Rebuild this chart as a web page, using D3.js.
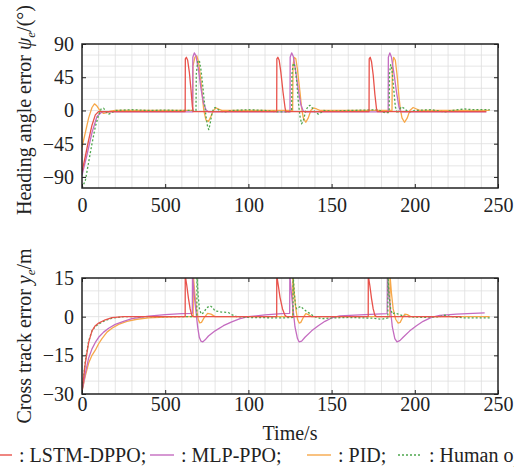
<!DOCTYPE html>
<html>
<head>
<meta charset="utf-8">
<script src="https://cdn.jsdelivr.net/npm/d3@7"></script>
<style>
	html, body { margin: 0; padding: 0; background: #fff; overflow: hidden; }
	svg { display: block; }
	.grid line { stroke: #dedede; stroke-width: 0.8; }
	.axis path { display: none; }
	.axis line { stroke: #222; stroke-width: 1; }
	.line { fill: none; stroke-width: 1.3; stroke-linejoin: round; }
</style>
</head>
<body>
<svg id="chart" width="514" height="475"></svg>
<script>
// tick values / labels (the source figure prints "500" under 50)
const xTicks = [0, 50, 100, 150, 200, 250];
const xTickLabels = ['0', '500', '100', '150', '200', '250'];
const headTicks = [-90, -45, 0, 45, 90];
const cteTicks = [-30, -15, 0, 15];

const seriesNames = ['LSTM-DPPO', 'MLP-PPO', 'PID', 'Human operator'];
const seriesColors = ['#e8524b', '#c46cc0', '#f7a84a', '#4ea64e'];
const serif = 'Liberation Serif';

// heading angle error [t, deg]
const lstmHead = [[0,-83],[2,-62],[4,-40],[6,-20],[8,-6],[10,-1.5],[20,-1.5],[62,-1.5],[62.1,70],[62.7,72],[63.5,68],[64.5,52],[65.5,28],[66.3,6],[66.8,-1.5],[117,-1.5],[117.1,70],[117.7,72],[118.5,68],[119.5,52],[120.8,25],[122,4],[122.5,-1.5],[172.5,-1.5],[172.6,70],[173.2,72],[174,66],[175,48],[176,22],[177,2],[177.4,-1.5],[243,-1.5]];
const mlpHead = [[0,-88],[3,-60],[6,-30],[9,-8],[12,-2],[66.5,-2],[66.6,72],[67.5,78],[68.5,74],[70,55],[71.5,30],[73,10],[74.5,1],[76,-2],[125,-2],[125.1,72],[126,78],[127,73],[128.5,52],[130,28],[131.5,8],[133,-1],[134,-2],[184,-2],[184.1,72],[185,78],[186,72],[187.5,50],[189,25],[190.5,5],[191.5,-2],[243,-2]];
const pidHead = [[0,-50],[2,-30],[4,-10],[6,4],[7.5,9],[9,6],[11,-1],[13,-4],[15,-3],[17,-1],[20,0],[66.5,0],[66.7,60],[67.8,72],[69,74],[70,66],[71.5,40],[72.5,15],[73.2,0],[74.5,-13],[76,-15],[77.5,-8],[79,0],[80.5,3.5],[82,2],[84,0],[126.6,0],[126.8,60],[127.5,72],[128.5,70],[129.5,55],[131,25],[132,3],[133,-10],[134.5,-16],[136,-10],[137.5,0],[139,3.5],[141,2],[143,0],[186.3,0],[186.5,60],[187.3,72],[188.3,68],[189.5,45],[190.5,18],[191.3,2],[192.3,-10],[193.8,-16],[195.5,-10],[197,0],[199,4],[201,2],[203,0],[245,0]];
const humanHead = [[0,-105],[2,-95],[4,-70],[6,-45],[8,-22],[10,-6],[11.5,2],[13,3],[14.5,-2],[16,-5],[18,-3],[20,0],[30,1],[40,0],[50,0.5],[60,0],[68.5,0],[68.7,50],[69.5,66],[70.5,68],[71.5,55],[72.5,35],[73.5,12],[74.5,-8],[75.5,-22],[76.2,-26],[77,-18],[78,-5],[79,2],[80,4],[81.5,2],[83,-1],[86,-2],[90,0],[100,1],[110,0],[118,-2],[124,-2],[126,0],[126.2,50],[127,64],[128,60],[129,40],[130,12],[131,-8],[132,-18],[133,-14],[134.5,0],[136,6],[137,7],[138.5,3],[140,-2],[142,-5],[143.5,-3],[145,0],[150,-1],[160,0],[170,0.5],[178,1],[182,-3],[184,-3],[184.6,0],[184.8,50],[185.5,62],[186.3,55],[187.3,30],[188.3,5],[189.5,-4],[190.5,0],[192,5],[193.5,3],[195,0],[197,-2],[200,0],[210,1],[218,-2],[222,0],[230,2],[235,1],[245,1]];

// cross track error [t, m]
const lstmCte = [[0,-29],[2,-18],[4,-10],[6,-5.5],[8,-3.5],[10,-2.5],[14,-1.2],[18,-0.4],[25,0],[62,0],[62.05,16],[63,12],[64,7],[65,3],[66,0.5],[67,0],[117,0],[117.05,16],[118,12],[119,7.5],[120.5,3],[122,0.5],[123,0],[172,0],[172.05,16],[173,12],[174,7],[175,3],[176,0.5],[177,0],[228,0]];
const mlpCte = [[0,-29],[2,-22],[4,-16],[6,-12.5],[8,-10],[10,-8],[13,-6],[16,-4.5],[20,-3],[25,-1.8],[30,-0.8],[40,0.2],[50,0.8],[60,1.2],[66.3,1.3],[66.4,16],[67.5,8],[68.5,2],[69.5,-4],[70.5,-8],[71.5,-9.5],[72.5,-9.8],[74,-9],[76,-7.5],[80,-5.5],[85,-3.5],[90,-2],[95,-0.8],[100,0],[110,0.7],[120,1.2],[124.8,1.3],[124.9,16],[126,8],[127,2],[128,-4],[129.5,-8.5],[130.5,-9.8],[132,-9.5],[134,-8],[138,-5.5],[142,-3.5],[146,-1.8],[150,-0.5],[155,0.3],[170,0.8],[183.4,1.2],[183.5,16],[184.5,8],[185.5,2],[186.5,-4],[188,-8.5],[189.3,-9.8],[191,-9.3],[193,-8],[197,-5.5],[201,-3.5],[205,-1.8],[210,-0.3],[215,0.5],[225,1],[235,1.3],[242,1.5]];
const pidCte = [[0,-29],[2,-23],[4,-18],[6,-15],[8,-13],[10,-10.5],[12,-8.5],[15,-6],[18,-4.5],[22,-3],[27,-1.8],[33,-1],[40,-0.5],[50,-0.2],[60,0],[66.8,0],[66.9,16],[67.8,9],[68.8,3],[69.8,-1],[70.8,-2.4],[71.8,-2.2],[73.5,-0.3],[75.5,1.3],[77.5,1],[80,0],[126.6,0],[126.7,16],[127.6,9],[128.5,3],[129.5,-1],[130.5,-2.5],[131.5,-2.2],[133,-0.3],[134.5,1.2],[136,0.8],[138,0],[185,0],[185.1,16],[186,9],[187,3],[188.5,-1],[190,-2.5],[191.2,-2.2],[192.5,-0.5],[194,1],[195.5,0.8],[197.5,0],[245,0]];
const humanCte = [[0,-29],[2,-17],[4,-9.5],[6,-5.5],[8,-3.8],[10,-2.8],[14,-1.5],[18,-0.6],[25,0],[40,0],[69,0],[69.1,16],[69.8,8],[70.6,3],[71.6,1],[73,1.5],[75,3.5],[77,4.2],[78.5,3.5],[80,2.2],[84,1.8],[88,1.6],[90,0.8],[93,0],[100,-0.3],[120,-0.5],[126.8,-0.3],[126.9,16],[127.6,9],[128.3,4.5],[129,3],[130,3.5],[131.5,4],[133,3],[135,2],[137,1.2],[139,0.3],[141,-0.3],[144,-0.8],[150,-0.5],[160,-0.3],[175,-0.6],[180,-1],[183.8,-0.5],[183.9,16],[184.6,8],[185.5,3],[186.5,1],[188,1.5],[190,1],[193,0.3],[196,0],[205,-0.3],[215,0],[218,0.6],[222,0],[230,-0.5],[245,-0.5]];

const svg = d3.select('#chart');
const left = 82;
const right = 498;

const x = d3.scaleLinear().domain([0, 250]).range([left, right]);

const panels = [ {
	id: 'head',
	top: 44,
	bottom: 188,
	domain: [-105, 90],
	ticks: headTicks,
	gridStep: 15,
	labelPad: 10,
	series: [pidHead, mlpHead, humanHead, lstmHead],
	order: [2, 1, 3, 0],
}, {
	id: 'cte',
	top: 278,
	bottom: 394,
	domain: [-30, 15],
	ticks: cteTicks,
	gridStep: 5,
	labelPad: 3,
	series: [pidCte, mlpCte, humanCte, lstmCte],
	order: [2, 1, 3, 0],
}, ];

panels.forEach((p) => {
	const y = d3.scaleLinear().domain(p.domain).range([p.bottom, p.top]);
	const g = svg.append('g');

	// grid
	const grid = g.append('g').attr('class', 'grid');
	grid.selectAll('.gx')
		.data(d3.range(10, 250, 10))
		.join('line')
			.attr('x1', (d) => x(d)).attr('x2', (d) => x(d))
			.attr('y1', p.top).attr('y2', p.bottom);
	grid.selectAll('.gy')
		.data(d3.range(p.domain[0] + p.gridStep, p.domain[1], p.gridStep))
		.join('line')
			.attr('x1', left).attr('x2', right)
			.attr('y1', (d) => y(d)).attr('y2', (d) => y(d));

	// lines
	g.append('clipPath').attr('id', `clip-${ p.id }`)
		.append('rect')
			.attr('x', left).attr('y', p.top)
			.attr('width', right - left).attr('height', p.bottom - p.top);

	const line = d3.line()
		.x((d) => x(d[0]))
		.y((d) => y(d[1]));

	const lines = g.append('g').attr('clip-path', `url(#clip-${ p.id })`);
	p.series.forEach((data, i) => {
		const k = p.order[i];
		lines.append('path')
			.datum(data)
			.attr('class', 'line')
			.attr('stroke', seriesColors[k])
			.attr('stroke-dasharray', k === 3 ? '2,2' : null)
			.attr('d', line);
	});

	// axes, ticks inward
	const axes = [
		[d3.axisLeft(y).tickValues(p.ticks).tickPadding(8), `translate(${ left }, 0)`],
		[d3.axisRight(y).tickValues(p.ticks).tickFormat(''), `translate(${ right }, 0)`],
		[d3.axisBottom(x).tickValues(xTicks).tickPadding(p.labelPad).tickFormat((d, i) => xTickLabels[i]), `translate(0, ${ p.bottom })`],
		[d3.axisTop(x).tickValues(xTicks).tickFormat(''), `translate(0, ${ p.top })`],
	];
	axes.forEach(([axis, tr]) => {
		g.append('g')
			.attr('class', 'axis')
			.attr('transform', tr)
			.call(axis.tickSize(-4))
			.attr('font-family', serif)
			.attr('font-size', 20)
			.selectAll('text')
				.attr('fill', '#222');
	});

	g.append('rect')
		.attr('x', left).attr('y', p.top)
		.attr('width', right - left).attr('height', p.bottom - p.top)
		.attr('fill', 'none')
		.attr('stroke', '#222')
		.attr('stroke-width', 1.5);
});

// y titles
const yTitle = (cx, cy, parts) => {
	const t = svg.append('text')
		.attr('transform', `translate(${ cx }, ${ cy }) rotate(-90)`)
		.attr('text-anchor', 'middle')
		.attr('font-family', serif)
		.attr('font-size', 20)
		.attr('fill', '#222');
	parts.forEach(([s, style]) => {
		const ts = t.append('tspan').text(s);
		if (style === 'i') ts.attr('font-style', 'italic');
		if (style === 'sub') ts.attr('font-style', 'italic').attr('font-size', 13).attr('dy', 4);
		if (style === 'up') ts.attr('dy', -4);
	});
};
yTitle(31, 110, [['Heading angle error ', ''], ['ψ', 'i'], ['e', 'sub'], ['/(°)', 'up']]);
yTitle(31, 336, [['Cross track error ', ''], ['y', 'i'], ['e', 'sub'], ['/m', 'up']]);

svg.append('text')
	.attr('x', (left + right) / 2)
	.attr('y', 440)
	.attr('text-anchor', 'middle')
	.attr('font-family', serif)
	.attr('font-size', 20)
	.attr('fill', '#222')
	.text('Time/s');

// legend, runs off the right edge like the source
const legendStart = [-12, 150, 307, 398];
const legend = svg.append('g');
seriesNames.forEach((name, k) => {
	const x0 = legendStart[k];
	legend.append('line')
		.attr('x1', x0).attr('x2', x0 + 24)
		.attr('y1', 455).attr('y2', 455)
		.attr('stroke', seriesColors[k])
		.attr('stroke-width', 1.4)
		.attr('stroke-dasharray', k === 3 ? '2,2' : null);
	legend.append('text')
		.attr('x', x0 + 31)
		.attr('y', 462)
		.attr('font-family', serif)
		.attr('font-size', 20)
		.attr('fill', '#222')
		.text(`: ${ name }${ k < 3 ? ';' : '' }`);
});
</script>
</body>
</html>
